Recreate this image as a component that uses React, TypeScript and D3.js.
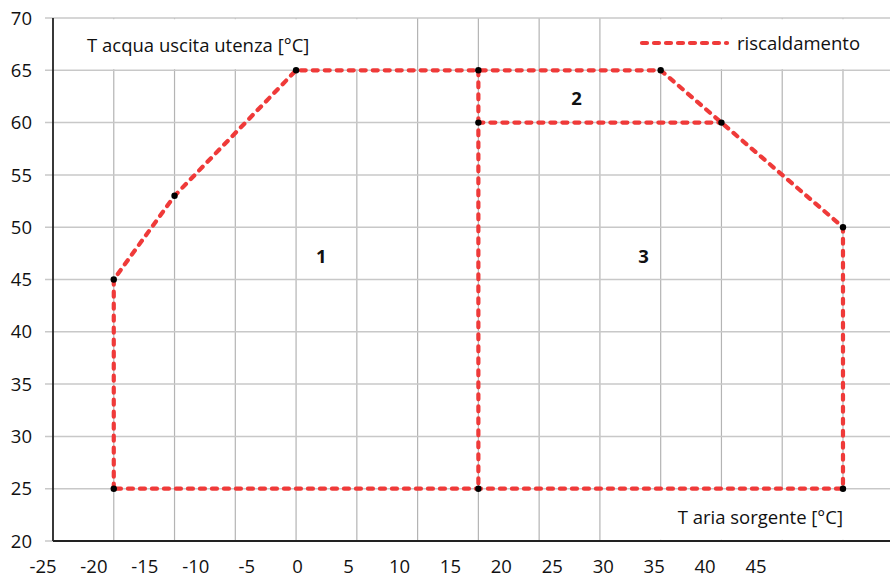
import React from "react";
import * as d3 from "d3";

// ---- data ----
const yTicks = [20, 25, 30, 35, 40, 45, 50, 55, 60, 65, 70];
const xTickLabels = ["-25", "-20", "-15", "-10", "-5", "0", "5", "10", "15", "20", "25", "30", "35", "40", "45"];
const xGridValues = [-24, -18, -12, -6, 0, 6, 12, 18, 24, 30, 36, 42, 48, 54];

const outlineX = [-18, -18, -12, 0, 18, 36, 42, 54, 54, 18, -18];
const outlineY = [25, 45, 53, 65, 65, 65, 60, 50, 25, 25, 25];
const dividerX = [18, 18];
const dividerY = [65, 25];
const zone2X = [18, 42];
const zone2Y = [60, 60];
const markerX = [-18, -18, -12, 0, 18, 18, 36, 42, 54, 54, 18];
const markerY = [25, 45, 53, 65, 65, 60, 65, 60, 50, 25, 25];

const zoneNames = ["1", "2", "3"];
const zoneX = [2.5, 27.7, 34.3];
const zoneY = [47.2, 62.3, 47.2];

const yTitle = "T acqua uscita utenza [°C]";
const xTitle = "T aria sorgente [°C]";
const seriesName = "riscaldamento";

// ---- layout ----
const W = 890;
const H = 578;
const left = 53;
const top = 18;
const bottom = 541;
const FONT = "'Open Sans', 'Noto Sans', sans-serif";
const FS = 18.5;
const RED = "#ef3a39";

export default function App() {
  const x = d3.scaleLinear().domain([-24, 60]).range([left, left + 84 * 10.128]);
  const y = d3.scaleLinear().domain([20, 70]).range([bottom, top]);
  const xLab = d3.scalePoint<string>().domain(xTickLabels).range([43, 756]);

  const line = d3
    .line<[number, number]>()
    .x((d) => x(d[0]))
    .y((d) => y(d[1]));
  const zip = (xs: number[], ys: number[]) => xs.map((v, i) => [v, ys[i]] as [number, number]);

  const dashProps = {
    fill: "none",
    stroke: RED,
    strokeWidth: 4.2,
    strokeDasharray: "5 7",
    strokeLinecap: "round" as const,
  };

  const txt = { fontSize: FS, fill: "#111", fontFamily: FONT };

  return (
    <svg width={W} height={H} style={{ position: "absolute", left: 0, top: 0, background: "#fff" }}>
      <rect x={0} y={0} width={W} height={H} fill="#fff" />
      {/* vertical grid */}
      {xGridValues.slice(1).map((v) => (
        <line key={"vg" + v} x1={x(v)} x2={x(v)} y1={top} y2={bottom} stroke="#b4b4b4" strokeWidth={1.2} />
      ))}
      {/* horizontal grid */}
      {yTicks.map((v) => (
        <line key={"hg" + v} x1={45} x2={W} y1={y(v)} y2={y(v)} stroke="#c8c8c8" strokeWidth={1.5} />
      ))}
      {/* white label boxes */}
      <rect x={left + 1} y={y(70) + 1.2} width={330} height={y(65) - y(70) - 2.4} fill="#fff" />
      <rect x={615} y={y(70) + 1.2} width={W - 615} height={y(65) - y(70) - 2.4} fill="#fff" />
      <rect x={615} y={y(25) + 1.2} width={W - 615} height={y(20) - y(25) - 2.4} fill="#fff" />
      {/* axes */}
      <line x1={left} x2={left} y1={top} y2={bottom} stroke="#222" strokeWidth={1.8} />
      <line x1={left} x2={W} y1={bottom} y2={bottom} stroke="#222" strokeWidth={1.8} />
      {/* y tick labels */}
      {yTicks.map((v) => (
        <text key={"yl" + v} x={32} y={y(v)} dy="0.36em" textAnchor="end" {...txt}>
          {v}
        </text>
      ))}
      {/* x tick labels */}
      {xTickLabels.map((l) => (
        <text key={"xl" + l} x={xLab(l)} y={573} textAnchor="middle" {...txt}>
          {l}
        </text>
      ))}
      {/* titles */}
      <text x={87} y={52} {...txt}>
        {yTitle}
      </text>
      <text x={843} y={524} textAnchor="end" {...txt}>
        {xTitle}
      </text>
      {/* legend */}
      <line x1={642} x2={727} y1={43} y2={43} {...dashProps} />
      <text x={737} y={50} {...txt}>
        {seriesName}
      </text>
      {/* series */}
      <path d={line(zip(outlineX, outlineY)) || ""} {...dashProps} />
      <path d={line(zip(dividerX, dividerY)) || ""} {...dashProps} />
      <path d={line(zip(zone2X, zone2Y)) || ""} {...dashProps} />
      {markerX.map((v, i) => (
        <circle key={"m" + i} cx={x(v)} cy={y(markerY[i])} r={3.2} fill="#000" />
      ))}
      {/* zone labels */}
      {zoneNames.map((n, i) => (
        <text key={"z" + n} x={x(zoneX[i])} y={y(zoneY[i])} dy="0.36em" textAnchor="middle" fontWeight="bold" {...txt}>
          {n}
        </text>
      ))}
    </svg>
  );
}
